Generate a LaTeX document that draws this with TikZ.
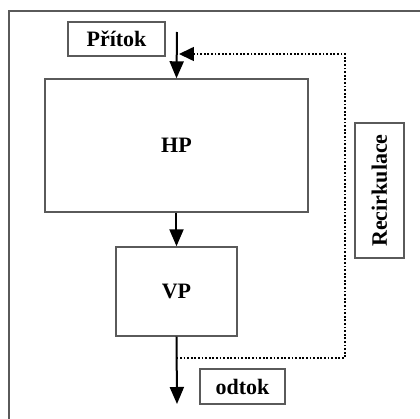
\documentclass[tikz,border=0pt]{standalone}
\usepackage{fontspec}
\setmainfont{Liberation Serif}
\usetikzlibrary{arrows.meta,positioning}
\definecolor{boxgray}{RGB}{90,90,90}

\tikzset{
  unit/.style={draw=boxgray, line width=0.7pt, font=\fontsize{11}{12}\selectfont\bfseries},
  flow/.style={line width=1pt, -{Triangle[length=8.5pt,width=7pt]}},
  recflow/.style={line width=0.8pt, dash pattern=on 0.9pt off 0.9pt, -{Triangle[length=7.5pt,width=7pt]}}
}

\begin{document}
\begin{tikzpicture}[x=0.5pt,y=0.5pt]
  \useasboundingbox (0,0) rectangle (420,419);
  \clip (0,0) rectangle (420,419);

  % outer frame, cut by the page edge
  \draw[boxgray, line width=0.7pt] (9,-20) rectangle (440,408);

  % units
  \node[unit, minimum width=48.5pt, minimum height=17pt] (pritok) at (116.5,380) {Přítok};
  \node[unit, minimum width=131.5pt, minimum height=66.5pt] (hp) at (176.5,273.5) {HP};
  \node[unit, minimum width=60.5pt, minimum height=44.5pt] (vp) at (176.5,127.5) {VP};
  \node[unit, minimum width=42.5pt, minimum height=17.5pt] (odtok) at (242.5,32.5) {odtok};
  \node[unit, rotate=90, minimum width=67.5pt, minimum height=24.5pt] (recirk) at (379.5,228.5) {Recirkulace};

  % free ends of the connectors
  \coordinate (in) at (177,387);
  \coordinate (out) at (177,15);
  \coordinate (rtop) at (345,365);
  \coordinate (rbot) at (345,61);

  % main flow
  \draw[flow] (in) -- (hp.north);
  \draw[flow] (hp.south) -- (vp.north);
  \draw[flow] (vp.south) -- (out);

  % recirculation
  \draw[recflow] (vp.south |- rbot) -- (rbot) -- (rtop) -- ([xshift=1pt]in |- rtop);

\end{tikzpicture}
\end{document}
